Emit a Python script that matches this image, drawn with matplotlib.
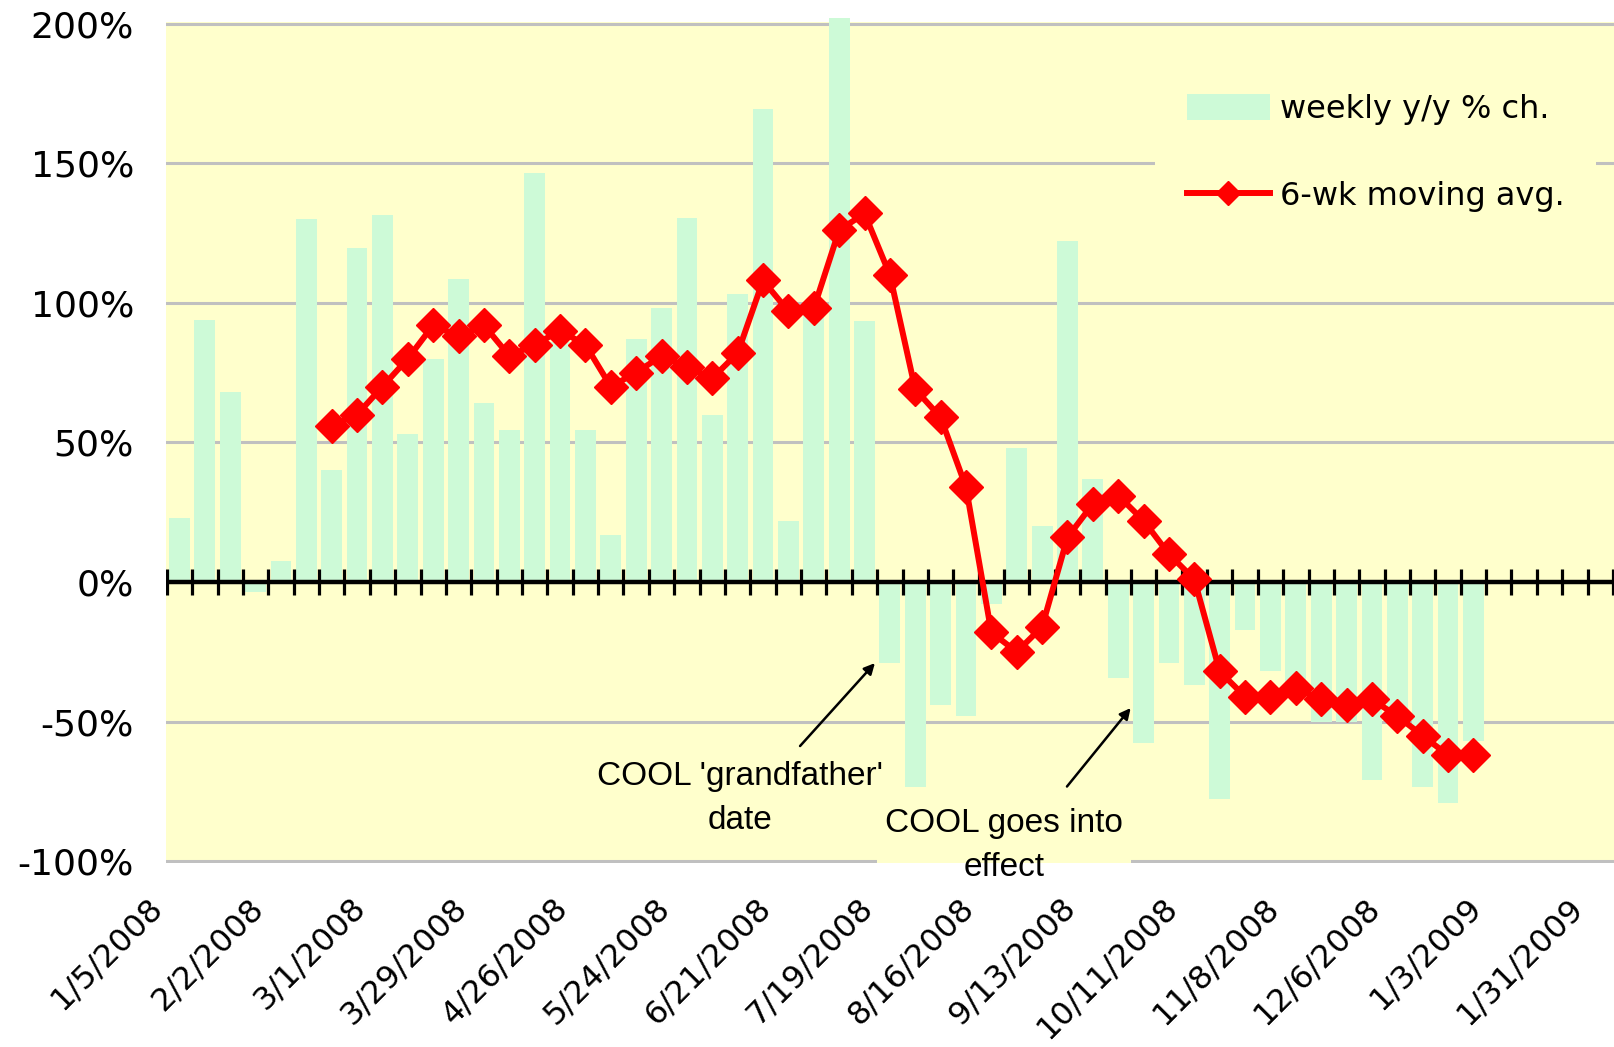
import numpy as np
import pandas as pd
import matplotlib
matplotlib.use('Agg')
import matplotlib.pyplot as plt
from matplotlib.transforms import ScaledTranslation

plt.rcParams['font.family'] = ['DejaVu Sans']

# weekly categories (the axis runs a few weeks past the data)
weeks = pd.date_range('2008-01-05', periods=57, freq='7D')
week_labels = [f'{d.month}/{d.day}/{d.year}' for d in weeks]

# weekly y/y % change
weekly = [23, 94, 68, -3.5, 7.5, 130, 40, 119.5, 131.5, 53,
          80, 108.5, 64, 54.5, 146.5, 86, 54.5, 17, 87, 98,
          130.5, 60, 103, 169.5, 22, 100, 202, 93.5, -29, -73.5,
          -44, -48, -8, 48, 20, 122, 37, -34.5, -57.5, -29,
          -37, -77.5, -17, -32, -36, -50, -50, -71, -49, -73.5,
          -79, -57]

# 6-week moving average, starts at the 7th week
ma_start = 6
moving_avg = [56, 60, 70, 80, 92, 88, 92, 81, 85, 90,
              85, 70, 75, 81, 77, 73, 82, 108, 97, 98,
              126, 132, 110, 69, 59, 34, -18, -25, -16, 16,
              28, 31, 22, 10, 1, -32, -41, -41, -38, -42,
              -44, -42, -48, -55, -62, -62]

y_ticks = [-100, -50, 0, 50, 100, 150, 200]

x = np.arange(len(weekly))
ma_x = np.arange(ma_start, ma_start + len(moving_avg))

fig = plt.figure(figsize=(16.15, 10.47), dpi=100)
ax = fig.add_axes([0.1028, 0.1757, 0.8972, 0.8034])
ax.set_facecolor('#FFFFCC')
ax.set_xlim(-0.53, 56.58)
ax.set_ylim(-100.6, 200.6)
for s in ax.spines.values():
    s.set_visible(False)

# gridlines behind the bars
ax.set_axisbelow(True)
ax.yaxis.grid(True, color='#C0C0C0', lw=2.2)
ax.set_yticks(y_ticks)
ax.set_yticklabels([f'{v}%' for v in y_ticks], fontsize=26)
ax.tick_params(axis='y', length=0, pad=23)

bars = ax.bar(x, weekly, width=0.82, color='#CDFAD7', zorder=2, clip_on=False,
              label='weekly y/y % ch.')

# zero line with weekly tick marks between categories
ax.axhline(0, color='black', lw=3.2, zorder=3)
ax.vlines(np.arange(len(weeks) + 1) - 0.5, -4.7, 4.7, color='black', lw=2.3, zorder=3)

line, = ax.plot(ma_x, moving_avg, color='red', lw=4.3, marker='D', ms=17, mec='red',
                zorder=4, label='6-wk moving avg.')

# x labels every 4 weeks
ax.set_xticks(np.arange(0, len(weeks), 4))
ax.set_xticklabels(week_labels[::4], rotation=45, ha='right',
                   rotation_mode='anchor', fontsize=23)
ax.tick_params(axis='x', length=0, pad=21)
shift = ScaledTranslation(-33 / 100, 0, fig.dpi_scale_trans)
for lab in ax.get_xticklabels():
    lab.set_transform(lab.get_transform() + shift)

# annotations
arrow = dict(arrowstyle='-|>', color='black', lw=1.8, mutation_scale=16,
             shrinkA=0, shrinkB=0)
ax.annotate('', xy=(27.41, -29), xytext=(24.46, -58.7), arrowprops=arrow, zorder=5)
ax.annotate('', xy=(37.49, -45.1), xytext=(34.98, -73.2), arrowprops=arrow, zorder=5)

ax.text(22.1, -77.4, "COOL 'grandfather'\ndate", ha='center', va='center',
        fontsize=24, family='Liberation Sans', linespacing=1.55, zorder=5)

note2 = "COOL goes into\neffect"
ghost = ax.text(32.5, -94.2, note2, ha='center', va='center', fontsize=24,
                family='Liberation Sans', linespacing=1.55, color='none', zorder=1.5,
                bbox=dict(facecolor='#FFFFCC', edgecolor='none', pad=6))
ghost.get_bbox_patch().set_clip_box(ax.bbox)
ghost.get_bbox_patch().set_clip_on(True)
ax.text(32.5, -94.2, note2, ha='center', va='center', fontsize=24,
        family='Liberation Sans', linespacing=1.55, zorder=5, clip_on=False)

ax.legend([bars, line], ['weekly y/y % ch.', '6-wk moving avg.'],
          loc='upper left', bbox_to_anchor=(1155 / 1615, 1 - 62 / 1047),
          bbox_transform=fig.transFigure, fontsize=23, frameon=True,
          facecolor='#FFFFCC', edgecolor='none', framealpha=1, fancybox=False,
          borderpad=1.0, handlelength=2.6, handletextpad=0.3, labelspacing=1.75,
          handleheight=0.9, borderaxespad=0, markerscale=0.7)

fig.savefig('out.png', dpi=100)
